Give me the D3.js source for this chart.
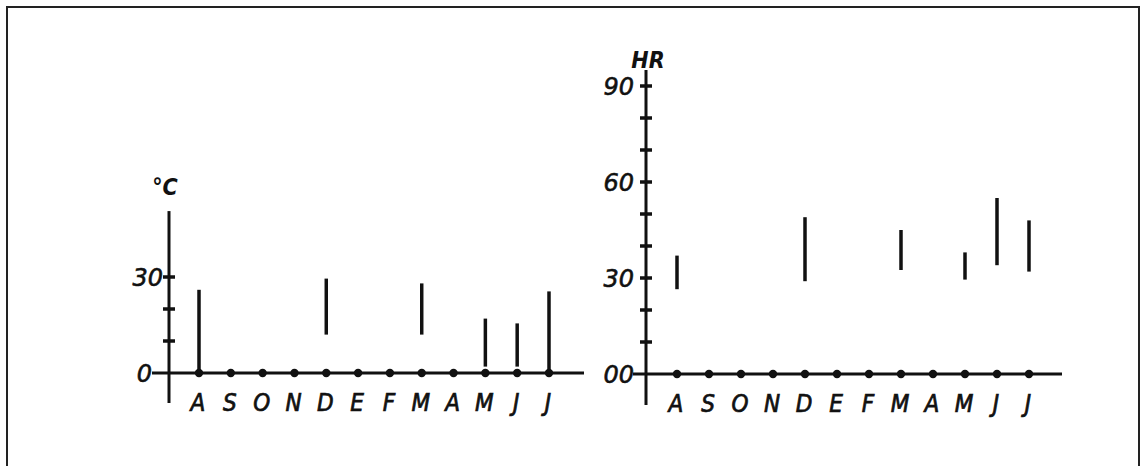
<!DOCTYPE html>
<html><head><meta charset="utf-8">
<script src="https://cdn.jsdelivr.net/npm/d3@7"></script>
<style>html,body{margin:0;padding:0;background:#fff;}svg{display:block;}</style>
</head><body>
<svg id="c" width="1144" height="466"></svg>
<script>
const months = ["A","S","O","N","D","E","F","M","A","M","J","J"];
// temperature range (°C): low / high per month (null = no measurement)
const tempLow  = [0, null, null, null, 12, null, null, 12, null, 2, 2, 1];
const tempHigh = [26, null, null, null, 29.5, null, null, 28, null, 17, 15.5, 25.5];
// relative humidity range (HR)
const hrLow  = [26.5, null, null, null, 29, null, null, 32.5, null, 29.5, 34, 32];
const hrHigh = [37, null, null, null, 49, null, null, 45, null, 38, 55, 48];
const tempTicks = [0, 10, 20, 30];
const tempTickLabels = ["0", "", "", "30"];
const hrTicks = [0, 10, 20, 30, 40, 50, 60, 70, 80, 90];
const hrTickLabels = ["00", "", "", "30", "", "", "60", "", "", "90"];

const svg = d3.select("#c");
const FONT = "'DejaVu Sans Condensed', 'DejaVu Sans', sans-serif";
const FONT_TICK = "'DejaVu Sans', sans-serif";

// frame
svg.append("rect").attr("x", 7).attr("y", 7).attr("width", 1132).attr("height", 480)
  .attr("fill", "none").attr("stroke", "#222").attr("stroke-width", 2);

function panel(cfg) {
  const g = svg.append("g");
  const x = d3.scalePoint().domain(d3.range(months.length)).range(cfg.xRange);
  const y = d3.scaleLinear().domain(cfg.yDomain).range(cfg.yRange);
  const x0 = cfg.axisX;
  // y axis line
  g.append("line").attr("x1", x0).attr("x2", x0)
    .attr("y1", y(cfg.yTop)).attr("y2", cfg.yBottom)
    .attr("stroke", "#111").attr("stroke-width", 3);
  // x axis line
  g.append("line").attr("x1", cfg.xStart).attr("x2", cfg.xEnd)
    .attr("y1", y(0)).attr("y2", y(0))
    .attr("stroke", "#111").attr("stroke-width", 3);
  // y ticks
  g.selectAll(".yt").data(cfg.ticks.filter(t => t !== 0)).enter().append("line")
    .attr("x1", x0 - 6).attr("x2", x0 + 6)
    .attr("y1", d => y(d)).attr("y2", d => y(d))
    .attr("stroke", "#111").attr("stroke-width", 3.5);
  // y tick labels
  g.selectAll(".yl").data(cfg.ticks).enter().append("text")
    .attr("x", (d, i) => cfg.labelX[i] ?? cfg.labelXDefault)
    .attr("y", d => y(d) + 9)
    .attr("text-anchor", "end")
    .attr("font-family", FONT_TICK).attr("font-style", "italic")
    .attr("font-size", 24).attr("fill", "#111")
    .attr("stroke", "#111").attr("stroke-width", 0.6)
    .text((d, i) => cfg.tickLabels[i]);
  // month dots
  g.selectAll(".dot").data(months).enter().append("circle")
    .attr("cx", (d, i) => x(i)).attr("cy", y(0)).attr("r", 4.2).attr("fill", "#111");
  // month labels
  g.selectAll(".ml").data(months).enter().append("text")
    .attr("x", (d, i) => x(i) - 1).attr("y", cfg.monthY)
    .attr("text-anchor", "middle")
    .attr("font-family", FONT).attr("font-style", "italic")
    .attr("font-size", 24).attr("fill", "#111")
    .attr("stroke", "#111").attr("stroke-width", 0.7)
    .text(d => d);
  // range bars
  const idx = d3.range(months.length).filter(i => cfg.low[i] != null);
  g.selectAll(".bar").data(idx).enter().append("line")
    .attr("x1", i => x(i)).attr("x2", i => x(i))
    .attr("y1", i => y(cfg.high[i])).attr("y2", i => y(cfg.low[i]))
    .attr("stroke", "#111").attr("stroke-width", 3.5);
  // unit label
  g.append("text").attr("x", cfg.unitX).attr("y", cfg.unitY)
    .attr("text-anchor", "middle")
    .attr("font-family", FONT).attr("font-style", "italic").attr("font-weight", "bold")
    .attr("font-size", 23).attr("fill", "#111")
    .text(cfg.unit);
}

panel({
  xRange: [199, 549], yDomain: [0, 30], yRange: [373, 277],
  axisX: 169, yTop: 50.6, yBottom: 403, xStart: 152, xEnd: 584,
  ticks: tempTicks, tickLabels: tempTickLabels, labelX: [152], labelXDefault: 163,
  low: tempLow, high: tempHigh, monthY: 411,
  unit: "°C", unitX: 165, unitY: 195
});
panel({
  xRange: [677, 1029], yDomain: [0, 90], yRange: [374, 86],
  axisX: 646, yTop: 95, yBottom: 405, xStart: 633, xEnd: 1062,
  ticks: hrTicks, tickLabels: hrTickLabels, labelX: [], labelXDefault: 634,
  low: hrLow, high: hrHigh, monthY: 412,
  unit: "HR", unitX: 648, unitY: 68
});
</script>
</body></html>
